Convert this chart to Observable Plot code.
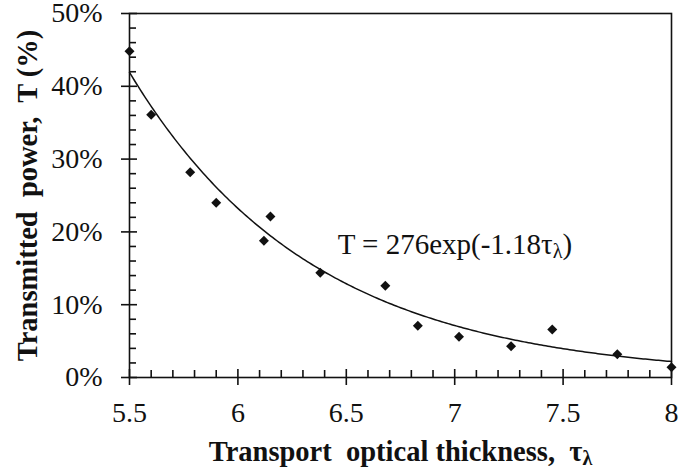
<!DOCTYPE html>
<html>
<head>
<meta charset="utf-8">
<script src="https://cdn.jsdelivr.net/npm/d3@7"></script>
<script src="https://cdn.jsdelivr.net/npm/@observablehq/plot@0.6"></script>
<style>
  html, body { margin: 0; padding: 0; background: #fff; }
  #chart svg { display: block; }
</style>
</head>
<body>
<div id="chart"></div>
<script>
// Measured transmitted power against transport optical thickness
const tau = [5.5, 5.6, 5.78, 5.9, 6.12, 6.15, 6.38, 6.68, 6.83, 7.02, 7.26, 7.45, 7.75, 8.0];
const transmitted = [44.8, 36.1, 28.2, 24.0, 18.8, 22.1, 14.4, 12.6, 7.1, 5.6, 4.3, 6.6, 3.2, 1.4];

// Exponential fit stated in the annotation: T = 276 exp(-1.18 τλ)
const fitA = 276;
const fitK = 1.18;
const fitLabel = "T = 276exp(-1.18τλ)";

// Axis ticks
const xTicks = [5.5, 6, 6.5, 7, 7.5, 8];
const xMinor = [5.6, 5.7, 5.8, 5.9, 6.1, 6.2, 6.3, 6.4, 6.6, 6.7, 6.8, 6.9, 7.1, 7.2, 7.3, 7.4, 7.6, 7.7, 7.8, 7.9];
const yTicks = [0, 10, 20, 30, 40, 50];
const yMinor = [2, 4, 6, 8, 12, 14, 16, 18, 22, 24, 26, 28, 32, 34, 36, 38, 42, 44, 46, 48];
const xTitle = "Transport  optical thickness,  τλ";
const yTitle = "Transmitted  power,  T (%)";

const points = tau.map((t, i) => ({tau: t, T: transmitted[i]}));
// fitted curve sampled along the x domain (fit gives a fraction; shown in %)
const fitCurve = d3.range(5.5, 8.0001, 0.01).map(t => ({tau: t, T: 100 * fitA * Math.exp(-fitK * t)}));

const ink = "#111";
const serif = "'Liberation Serif', 'Times New Roman', serif";

const chart = Plot.plot({
  width: 680,
  height: 474,
  marginLeft: 129,
  marginRight: 9,
  marginTop: 13,
  marginBottom: 97,
  style: {fontFamily: serif, color: ink, background: "#fff"},
  x: {domain: [5.5, 8]},
  y: {domain: [0, 50]},
  marks: [
    Plot.frame({stroke: ink, strokeWidth: 1.6}),
    // major ticks cross the axis lines; minor ticks point inward
    Plot.axisX({ticks: xTicks, tickSize: 8, tickPadding: 17, fontSize: 28, fontFamily: serif, stroke: ink, strokeWidth: 1.6, label: null, tickFormat: d => String(d)}),
    Plot.axisX({ticks: xTicks, tickSize: -8, text: null, stroke: ink, strokeWidth: 1.6, label: null}),
    Plot.axisX({ticks: xMinor, tickSize: -7, text: null, stroke: ink, strokeWidth: 1.6, label: null}),
    Plot.axisY({ticks: yTicks, tickSize: 8, tickPadding: 19, fontSize: 28, fontFamily: serif, stroke: ink, strokeWidth: 1.6, label: null, tickFormat: d => d + "%"}),
    Plot.axisY({ticks: yTicks, tickSize: -8, text: null, stroke: ink, strokeWidth: 1.6, label: null}),
    Plot.axisY({ticks: yMinor, tickSize: -7, text: null, stroke: ink, strokeWidth: 1.6, label: null}),
    Plot.line(fitCurve, {x: "tau", y: "T", stroke: ink, strokeWidth: 1.5}),
    Plot.dot(points, {x: "tau", y: "T", symbol: "diamond2", r: 4.5, fill: ink, stroke: "none"}),
    Plot.text([fitLabel], {x: 6.46, y: 18.3, text: d => d, textAnchor: "start", fontSize: 29, fill: ink, className: "fit-label"}),
    Plot.text([xTitle], {frameAnchor: "bottom", dy: 83, text: d => d, textAnchor: "middle", fontSize: 28.5, fontWeight: "bold", fill: ink, className: "x-title"}),
    Plot.text([yTitle], {frameAnchor: "left", dx: -102, rotate: -90, text: d => d, textAnchor: "middle", fontSize: 28.5, fontWeight: "bold", fill: ink, className: "y-title"})
  ]
});

// subscript λ on τ in the fit label and axis title
d3.select(chart).selectAll(".fit-label text, .x-title text").each(function () {
  const el = d3.select(this);
  const s = el.text();
  const i = s.indexOf("λ");
  if (i < 0) return;
  el.text(null);
  el.append("tspan").text(s.slice(0, i));
  el.append("tspan").attr("baseline-shift", "-22%").attr("font-size", "70%").text("λ");
  if (i + 1 < s.length) el.append("tspan").text(s.slice(i + 1));
});
d3.select(chart).selectAll(".x-title text, .y-title text").style("white-space", "pre");

document.getElementById("chart").appendChild(chart);
</script>
</body>
</html>
